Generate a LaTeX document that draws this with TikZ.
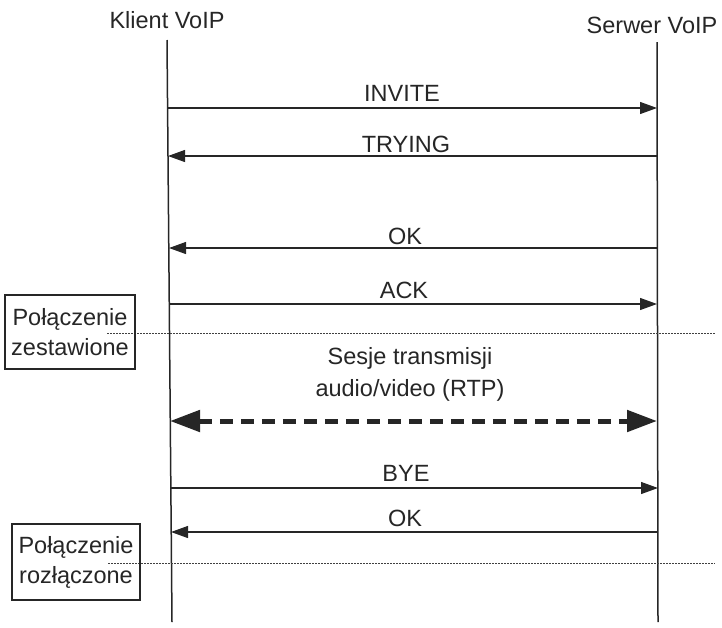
\documentclass[tikz,border=0pt]{standalone}
\usepackage{fontspec}
\setmainfont{Liberation Sans}
\usetikzlibrary{arrows.meta}
\begin{document}
\begin{tikzpicture}[x=1pt,y=-1pt,
  lbl/.style={anchor=base,inner sep=0pt,font=\fontsize{23.5}{30}\selectfont,text=black!85},
  lifeline/.style={line width=1.5pt,draw=black!85},
  msg/.style={line width=1.2pt,draw=black!85,-{Triangle[length=17pt,width=12pt]}},
  rtp/.style={line width=5pt,draw=black!85,dash pattern=on 13pt off 8pt,
    {Triangle[length=30pt,width=21pt]}-{Triangle[length=30pt,width=21pt]}},
  sep/.style={line width=1pt,draw=black!75,dash pattern=on 1.5pt off 1.5pt},
  statebox/.style={draw=black!85,line width=1.2pt,inner sep=0pt,align=center,
    text=black!85,font=\fontsize{23.5}{30}\selectfont}]
\useasboundingbox (0,0) rectangle (722,627);
% headers
\node[lbl] (klient) at (167,28) {Klient VoIP};
\node[lbl] (serwer) at (652,33) {Serwer VoIP};
% lifelines
\coordinate (kt) at (167,40); \coordinate (kb) at (172,622);
\coordinate (st) at (657,42); \coordinate (sb) at (658,622);
\draw[lifeline] (kt) -- (kb);
\draw[lifeline] (st) -- (sb);
% messages
\coordinate (k1) at (168,108); \coordinate (s1) at (657,108);
\draw[msg] (k1) -- (s1);
\node[lbl] (invite) at (402,101) {INVITE};
\coordinate (k2) at (168,156); \coordinate (s2) at (657,156);
\draw[msg] (s2) -- (k2);
\node[lbl] (trying) at (406,152) {TRYING};
\coordinate (k3) at (169,248); \coordinate (s3) at (657,248);
\draw[msg] (s3) -- (k3);
\node[lbl] (ok1) at (405,244) {OK};
\coordinate (k4) at (169,304); \coordinate (s4) at (657,304);
\draw[msg] (k4) -- (s4);
\node[lbl] (ack) at (404,298) {ACK};
% separator 1
\coordinate (d1a) at (107,333); \coordinate (d1b) at (715,333);
\draw[sep] (d1a) -- (d1b);
\node[statebox,minimum width=130pt,minimum height=74pt] (est) at (70,332)
  {Połączenie\\zestawione};
% RTP
\node[lbl] (sesje) at (410,364) {Sesje transmisji};
\node[lbl] (audio) at (410,396) {audio/video (RTP)};
\coordinate (k5) at (170,421); \coordinate (s5) at (657,421);
\draw[rtp] (k5) -- (s5);
% teardown
\coordinate (k6) at (171,488); \coordinate (s6) at (658,488);
\draw[msg] (k6) -- (s6);
\node[lbl] (bye) at (406,481) {BYE};
\coordinate (k7) at (171,532); \coordinate (s7) at (658,532);
\draw[msg] (s7) -- (k7);
\node[lbl] (ok2) at (405,526) {OK};
% separator 2
\coordinate (d2a) at (108,563); \coordinate (d2b) at (715,563);
\draw[sep] (d2a) -- (d2b);
\node[statebox,minimum width=128pt,minimum height=76pt] (roz) at (76,562)
  {Połączenie\\rozłączone};
\end{tikzpicture}
\end{document}
